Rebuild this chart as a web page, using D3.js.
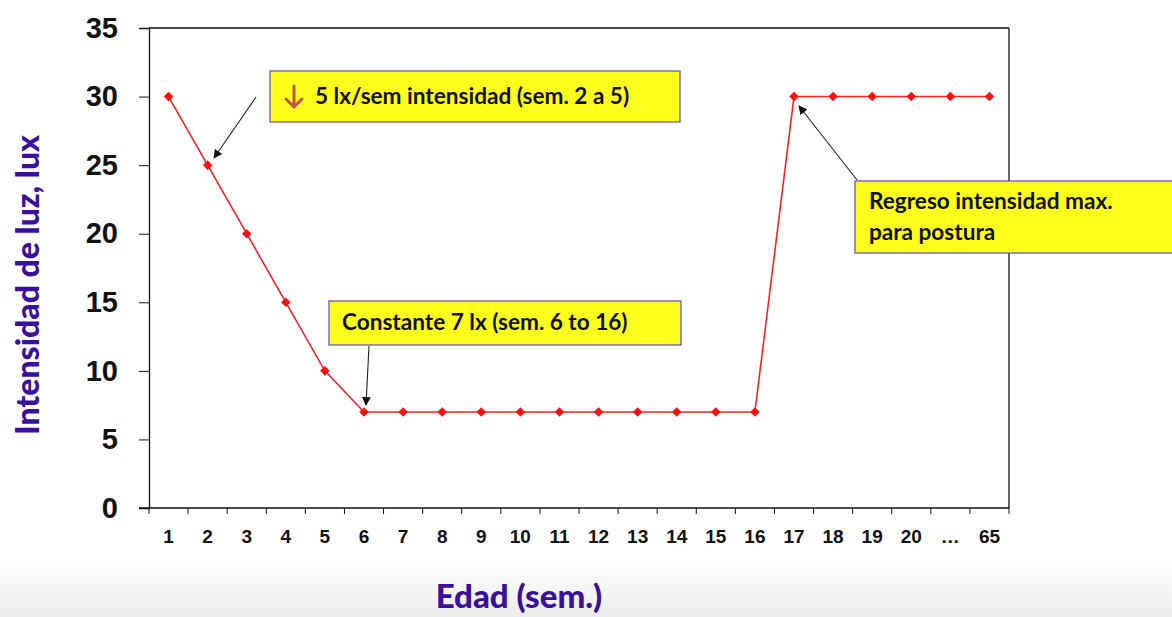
<!DOCTYPE html>
<html>
<head>
<meta charset="utf-8">
<script src="https://cdn.jsdelivr.net/npm/d3@7"></script>
<style>
  html, body { margin: 0; padding: 0; background: #fff; }
  svg { display: block; }
</style>
</head>
<body>
<svg id="chart" width="1172" height="617"></svg>
<script>
// Light intensity programme by age (weeks)
const weeks = ["1","2","3","4","5","6","7","8","9","10","11","12","13","14","15","16","17","18","19","20","\u2026","65"];
const lux   = [30, 25, 20, 15, 10, 7, 7, 7, 7, 7, 7, 7, 7, 7, 7, 7, 30, 30, 30, 30, 30, 30];
const yTicks = [0, 5, 10, 15, 20, 25, 30, 35];

const W = 1172, H = 617;
const m = { left: 149, right: 1009, top: 28, bottom: 508 };
const purple = "#3a0f9e";
const calibri = "Lato, 'Open Sans', sans-serif";

const svg = d3.select("#chart");

// soft grey band at the foot of the slide
const defs = svg.append("defs");
const g = defs.append("linearGradient").attr("id", "foot").attr("x1", 0).attr("y1", 0).attr("x2", 0).attr("y2", 1);
g.append("stop").attr("offset", "0%").attr("stop-color", "#ffffff");
g.append("stop").attr("offset", "100%").attr("stop-color", "#ececec");
svg.append("rect").attr("x", 0).attr("y", 560).attr("width", W).attr("height", H - 560).attr("fill", "url(#foot)");

const arrowDef = defs.append("marker").attr("id", "ah").attr("viewBox", "0 0 10 10")
  .attr("refX", 9).attr("refY", 5).attr("markerWidth", 9).attr("markerHeight", 9)
  .attr("markerUnits", "userSpaceOnUse").attr("orient", "auto");
arrowDef.append("path").attr("d", "M0,0 L10,5 L0,10 Z").attr("fill", "#111");

const x = d3.scaleBand().domain(weeks).range([m.left, m.right]);
const y = d3.scaleLinear().domain([0, 35]).range([m.bottom, m.top]);

// frame
svg.append("line").attr("x1", m.left).attr("x2", m.right).attr("y1", m.top).attr("y2", m.top).attr("stroke", "#111").attr("stroke-width", 1.3);
svg.append("line").attr("x1", m.right).attr("x2", m.right).attr("y1", m.top).attr("y2", m.bottom).attr("stroke", "#111").attr("stroke-width", 1.3);

// y axis
const yAxis = svg.append("g").attr("transform", `translate(${m.left},0)`)
  .call(d3.axisLeft(y).tickValues(yTicks).tickSize(10).tickPadding(21));
yAxis.select(".domain").attr("stroke", "#111").attr("stroke-width", 1.3);
yAxis.selectAll(".tick line").attr("stroke", "#111").attr("stroke-width", 1);
yAxis.selectAll("text").attr("fill", "#111")
  .style("font-family", "'Liberation Sans', Arial, sans-serif").style("font-weight", "bold").style("font-size", "29px");

// x axis: ticks sit on the category boundaries
const boundaries = weeks.map(w => x(w)).concat([m.right]);
svg.append("line").attr("x1", m.left - 10).attr("x2", m.right).attr("y1", m.bottom).attr("y2", m.bottom).attr("stroke", "#111").attr("stroke-width", 1.3);
svg.append("g").selectAll("line").data(boundaries).join("line")
  .attr("x1", d => d).attr("x2", d => d).attr("y1", m.bottom).attr("y2", m.bottom + 6)
  .attr("stroke", "#111").attr("stroke-width", 1);
svg.append("g").selectAll("text").data(weeks).join("text")
  .attr("x", d => x(d) + x.bandwidth() / 2).attr("y", 543)
  .attr("text-anchor", "middle").attr("fill", "#111")
  .style("font-family", "'Liberation Sans', Arial, sans-serif").style("font-weight", "bold").style("font-size", "19px")
  .text(d => d);

// series
const pts = weeks.map((w, i) => ({ w, v: lux[i] }));
const line = d3.line().x(d => x(d.w) + x.bandwidth() / 2).y(d => y(d.v));
svg.append("path").datum(pts).attr("d", line).attr("fill", "none").attr("stroke", "#ff2020").attr("stroke-width", 1.6);
svg.append("g").selectAll("path").data(pts).join("path")
  .attr("transform", d => `translate(${x(d.w) + x.bandwidth() / 2},${y(d.v)})`)
  .attr("d", "M0,-4.8 L4.8,0 L0,4.8 L-4.8,0 Z").attr("fill", "#ff1010");

// axis titles
svg.append("text").attr("transform", "translate(39,285) rotate(-90)")
  .attr("text-anchor", "middle").attr("fill", purple)
  .style("font-family", calibri).style("font-weight", "900").style("font-size", "32px")
  .text("Intensidad de luz, lux");
svg.append("text").attr("x", 519).attr("y", 608)
  .attr("text-anchor", "middle").attr("fill", purple)
  .style("font-family", calibri).style("font-weight", "900").style("font-size", "33px")
  .text("Edad (sem.)");

// callouts
function box(x0, y0, w, h) {
  svg.append("rect").attr("x", x0).attr("y", y0).attr("width", w).attr("height", h)
    .attr("fill", "#ffff1c").attr("stroke", "#6a58c4").attr("stroke-width", 1.3);
}
function label(x0, y0, t) {
  return svg.append("text").attr("x", x0).attr("y", y0).attr("fill", "#111")
    .style("font-family", calibri).style("font-weight", "bold").style("font-size", "22.6px").text(t);
}
function arrow(x1, y1, x2, y2) {
  svg.append("line").attr("x1", x1).attr("y1", y1).attr("x2", x2).attr("y2", y2)
    .attr("stroke", "#222").attr("stroke-width", 1.1).attr("marker-end", "url(#ah)");
}

box(270, 71, 410, 51);
// red-brown down arrow glyph
svg.append("path").attr("d", "M294,86 L294,107 M286,99 L294,107 L302,99")
  .attr("fill", "none").attr("stroke", "#c0504d").attr("stroke-width", 3).attr("stroke-linecap", "round").attr("stroke-linejoin", "round");
label(315, 104, "5 lx/sem intensidad (sem. 2 a 5)");
arrow(256, 97, 214, 158);

box(329, 301, 352, 44);
label(342, 330, "Constante 7 lx (sem. 6 to 16)");
arrow(369, 346, 366, 405);

box(855, 181, 330, 72);
label(869, 209, "Regreso intensidad max.");
label(869, 240, "para postura");
arrow(857, 180, 799, 106);
</script>
</body>
</html>
